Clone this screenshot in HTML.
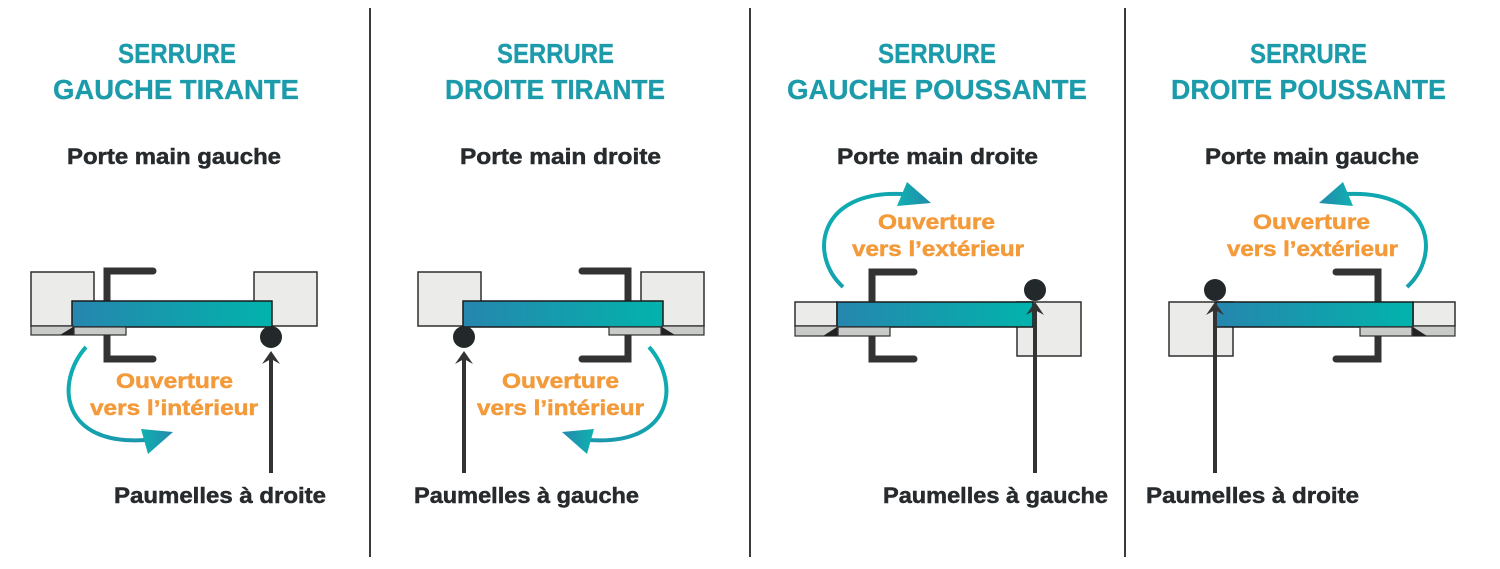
<!DOCTYPE html>
<html>
<head>
<meta charset="utf-8">
<style>
  html,body{margin:0;padding:0;background:#fff;}
  svg{display:block;}
  .t{font-family:"Liberation Sans",Arial,sans-serif;font-weight:bold;}
  .title{fill:#1c9bab;font-size:28px;stroke:#1c9bab;stroke-width:0.3;}
  .dark{fill:#272b2d;font-size:22px;stroke:#272b2d;stroke-width:0.5;}
  .or{fill:#f39a3a;font-size:21px;stroke:#f39a3a;stroke-width:0.5;}
</style>
</head>
<body>
<svg width="1500" height="569" viewBox="0 0 1500 569" xmlns="http://www.w3.org/2000/svg">
  <defs>
    <linearGradient id="door" x1="0" y1="0" x2="1" y2="0">
      <stop offset="0" stop-color="#2686ae"/>
      <stop offset="1" stop-color="#02b3ac"/>
    </linearGradient>
    <linearGradient id="curve" x1="0" y1="0" x2="1" y2="1">
      <stop offset="0" stop-color="#0bb0b1"/>
      <stop offset="1" stop-color="#1d96ae"/>
    </linearGradient>
    <linearGradient id="head" x1="0" y1="0" x2="1" y2="0">
      <stop offset="0" stop-color="#0fb1b0"/>
      <stop offset="1" stop-color="#2389ad"/>
    </linearGradient>
  </defs>

  <rect width="1500" height="569" fill="#fff"/>

  <!-- dividers -->
  <g stroke="#3a3a3a" stroke-width="2">
    <line x1="370" y1="8" x2="370" y2="557"/>
    <line x1="750" y1="8" x2="750" y2="557"/>
    <line x1="1125" y1="8" x2="1125" y2="557"/>
  </g>

  <!-- ========== PANEL 1 & 2 (tirante) ========== -->
  <g>
    <rect x="31" y="272" width="63" height="54" fill="#ebecea" stroke="#2e2e2e" stroke-width="1.5"/>
    <rect x="254" y="272" width="63" height="54" fill="#ebecea" stroke="#2e2e2e" stroke-width="1.5"/>
    <path d="M153,271 L107,271 L107,359 L153,359" fill="none" stroke="#333" stroke-width="7" stroke-linecap="round" stroke-linejoin="miter"/>
  </g>
  <g transform="translate(735,0) scale(-1,1)">
    <rect x="31" y="272" width="63" height="54" fill="#ebecea" stroke="#2e2e2e" stroke-width="1.5"/>
    <rect x="254" y="272" width="63" height="54" fill="#ebecea" stroke="#2e2e2e" stroke-width="1.5"/>
    <path d="M153,271 L107,271 L107,359 L153,359" fill="none" stroke="#333" stroke-width="7" stroke-linecap="round" stroke-linejoin="miter"/>
  </g>

  <rect x="72" y="301" width="200" height="26" fill="url(#door)" stroke="#1a1a1a" stroke-width="1.5"/>
  <rect x="463" y="301" width="200" height="26" fill="url(#door)" stroke="#1a1a1a" stroke-width="1.5"/>

  <g>
    <rect x="31" y="326" width="42" height="9" fill="#c9cbc8" stroke="#2e2e2e" stroke-width="1.2"/>
    <rect x="74" y="327" width="52" height="8" fill="#c9cbc8" stroke="#2e2e2e" stroke-width="1.2"/>
    <polygon points="60,335 73,327 73,335" fill="#222"/>
    <circle cx="271" cy="337" r="11" fill="#23292b"/>
    <line x1="271" y1="358" x2="271" y2="473" stroke="#333" stroke-width="4"/>
    <polygon points="271,351 280,364 271,359 262,364" fill="#333"/>
    <path d="M86,347 C55,382 60,446 146,440" fill="none" stroke="url(#curve)" stroke-width="4"/>
    <polygon points="141,429 173,432 148,454" fill="url(#head)"/>
  </g>
  <g transform="translate(735,0) scale(-1,1)">
    <rect x="31" y="326" width="42" height="9" fill="#c9cbc8" stroke="#2e2e2e" stroke-width="1.2"/>
    <rect x="74" y="327" width="52" height="8" fill="#c9cbc8" stroke="#2e2e2e" stroke-width="1.2"/>
    <polygon points="60,335 73,327 73,335" fill="#222"/>
    <circle cx="271" cy="337" r="11" fill="#23292b"/>
    <line x1="271" y1="358" x2="271" y2="473" stroke="#333" stroke-width="4"/>
    <polygon points="271,351 280,364 271,359 262,364" fill="#333"/>
    <path d="M86,347 C55,382 60,446 146,440" fill="none" stroke="url(#curve)" stroke-width="4"/>
    <polygon points="141,429 173,432 148,454" fill="url(#head)"/>
  </g>

  <!-- ========== PANEL 3 & 4 (poussante) ========== -->
  <g>
    <rect x="795" y="302" width="42" height="24" fill="#ebecea" stroke="#2e2e2e" stroke-width="1.5"/>
    <rect x="1017" y="302" width="64" height="54" fill="#ebecea" stroke="#2e2e2e" stroke-width="1.5"/>
    <path d="M914,272 L872,272 L872,359 L914,359" fill="none" stroke="#333" stroke-width="7" stroke-linecap="round" stroke-linejoin="miter"/>
  </g>
  <g transform="translate(2250,0) scale(-1,1)">
    <rect x="795" y="302" width="42" height="24" fill="#ebecea" stroke="#2e2e2e" stroke-width="1.5"/>
    <rect x="1017" y="302" width="64" height="54" fill="#ebecea" stroke="#2e2e2e" stroke-width="1.5"/>
    <path d="M914,272 L872,272 L872,359 L914,359" fill="none" stroke="#333" stroke-width="7" stroke-linecap="round" stroke-linejoin="miter"/>
  </g>

  <rect x="837" y="302" width="196" height="25" fill="url(#door)" stroke="#1a1a1a" stroke-width="1.5"/>
  <rect x="1216" y="302" width="197" height="25" fill="url(#door)" stroke="#1a1a1a" stroke-width="1.5"/>

  <g>
    <rect x="795" y="326" width="42" height="10" fill="#c9cbc8" stroke="#2e2e2e" stroke-width="1.2"/>
    <rect x="838" y="327" width="52" height="9" fill="#c9cbc8" stroke="#2e2e2e" stroke-width="1.2"/>
    <polygon points="823,336 837,327 837,336" fill="#222"/>
    <circle cx="1035" cy="290" r="11" fill="#23292b"/>
    <line x1="1035" y1="309" x2="1035" y2="473" stroke="#333" stroke-width="4"/>
    <polygon points="1035,302 1044,315 1035,310 1026,315" fill="#333"/>
    <path d="M843,287 C808,255 818,190 903,194" fill="none" stroke="url(#curve)" stroke-width="4"/>
    <polygon points="907,182 931,203 897,206" fill="url(#head)"/>
  </g>
  <g transform="translate(2250,0) scale(-1,1)">
    <rect x="795" y="326" width="42" height="10" fill="#c9cbc8" stroke="#2e2e2e" stroke-width="1.2"/>
    <rect x="838" y="327" width="52" height="9" fill="#c9cbc8" stroke="#2e2e2e" stroke-width="1.2"/>
    <polygon points="823,336 837,327 837,336" fill="#222"/>
    <circle cx="1035" cy="290" r="11" fill="#23292b"/>
    <line x1="1035" y1="309" x2="1035" y2="473" stroke="#333" stroke-width="4"/>
    <polygon points="1035,302 1044,315 1035,310 1026,315" fill="#333"/>
    <path d="M843,287 C808,255 818,190 903,194" fill="none" stroke="url(#curve)" stroke-width="4"/>
    <polygon points="907,182 931,203 897,206" fill="url(#head)"/>
  </g>

  <!-- ========== TEXT ========== -->
  <g class="t">
    <!-- Panel 1 -->
    <text class="title" x="118" y="63" textLength="118" lengthAdjust="spacingAndGlyphs">SERRURE</text>
    <text class="title" x="53" y="99" textLength="246" lengthAdjust="spacingAndGlyphs">GAUCHE TIRANTE</text>
    <text class="dark" x="67" y="164" textLength="214" lengthAdjust="spacingAndGlyphs">Porte main gauche</text>
    <text class="or" x="116" y="388" textLength="117" lengthAdjust="spacingAndGlyphs">Ouverture</text>
    <text class="or" x="90" y="415" textLength="168" lengthAdjust="spacingAndGlyphs">vers l’intérieur</text>
    <text class="dark" x="114" y="503" textLength="212" lengthAdjust="spacingAndGlyphs">Paumelles à droite</text>

    <!-- Panel 2 -->
    <text class="title" x="497" y="63" textLength="117" lengthAdjust="spacingAndGlyphs">SERRURE</text>
    <text class="title" x="445" y="99" textLength="220" lengthAdjust="spacingAndGlyphs">DROITE TIRANTE</text>
    <text class="dark" x="460" y="164" textLength="201" lengthAdjust="spacingAndGlyphs">Porte main droite</text>
    <text class="or" x="502" y="388" textLength="117" lengthAdjust="spacingAndGlyphs">Ouverture</text>
    <text class="or" x="477" y="415" textLength="167" lengthAdjust="spacingAndGlyphs">vers l’intérieur</text>
    <text class="dark" x="414" y="503" textLength="225" lengthAdjust="spacingAndGlyphs">Paumelles à gauche</text>

    <!-- Panel 3 -->
    <text class="title" x="878" y="63" textLength="118" lengthAdjust="spacingAndGlyphs">SERRURE</text>
    <text class="title" x="787" y="99" textLength="300" lengthAdjust="spacingAndGlyphs">GAUCHE POUSSANTE</text>
    <text class="dark" x="837" y="164" textLength="201" lengthAdjust="spacingAndGlyphs">Porte main droite</text>
    <text class="or" x="878" y="229" textLength="117" lengthAdjust="spacingAndGlyphs">Ouverture</text>
    <text class="or" x="852" y="256" textLength="172" lengthAdjust="spacingAndGlyphs">vers l’extérieur</text>
    <text class="dark" x="883" y="503" textLength="225" lengthAdjust="spacingAndGlyphs">Paumelles à gauche</text>

    <!-- Panel 4 -->
    <text class="title" x="1250" y="63" textLength="117" lengthAdjust="spacingAndGlyphs">SERRURE</text>
    <text class="title" x="1171" y="99" textLength="275" lengthAdjust="spacingAndGlyphs">DROITE POUSSANTE</text>
    <text class="dark" x="1205" y="164" textLength="214" lengthAdjust="spacingAndGlyphs">Porte main gauche</text>
    <text class="or" x="1253" y="229" textLength="117" lengthAdjust="spacingAndGlyphs">Ouverture</text>
    <text class="or" x="1227" y="256" textLength="171" lengthAdjust="spacingAndGlyphs">vers l’extérieur</text>
    <text class="dark" x="1146" y="503" textLength="213" lengthAdjust="spacingAndGlyphs">Paumelles à droite</text>
  </g>
</svg>
</body>
</html>
